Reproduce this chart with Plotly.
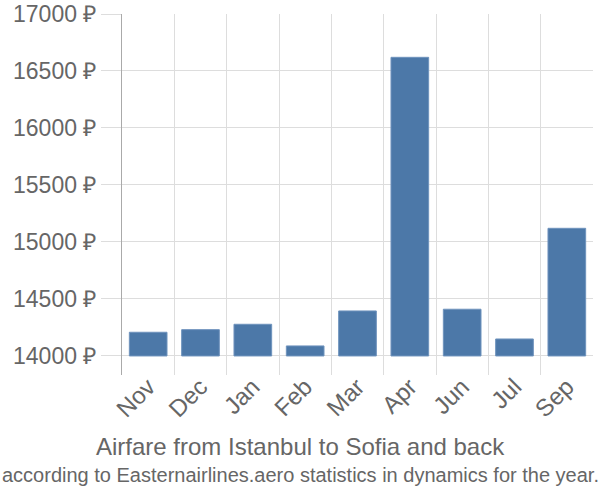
import plotly.graph_objects as go

months = ["Nov", "Dec", "Jan", "Feb", "Mar", "Apr", "Jun", "Jul", "Sep"]
prices = [14208, 14231, 14278, 14088, 14395, 16620, 14410, 14149, 15120]
base_value = 14000
y_ticks = [14000, 14500, 15000, 15500, 16000, 16500, 17000]
y_tick_labels = [f"{v} ₽" for v in y_ticks]

title_text = "Airfare from Istanbul to Sofia and back"
subtitle_text = "according to Easternairlines.aero statistics in dynamics for the year."

font_family = "Liberation Sans, Arial, sans-serif"
text_color = "#666666"
grid_color = "#dddddd"

fig = go.Figure(
    go.Bar(
        x=months,
        y=[p - base_value for p in prices],
        base=base_value,
        marker=dict(color="#4c78a8", line=dict(color="#6f93bd", width=1)),
        width=0.72,
        hoverinfo="skip",
    )
)

fig.update_layout(
    width=600,
    height=500,
    margin=dict(l=122, r=7, t=14, b=125),
    paper_bgcolor="white",
    plot_bgcolor="white",
    showlegend=False,
    font=dict(family=font_family, color=text_color),
    xaxis=dict(
        type="category",
        range=[-0.5, 8.5],
        tickson="boundaries",
        showgrid=True,
        gridcolor=grid_color,
        gridwidth=1,
        ticks="",
        tickangle=-45,
        tickfont=dict(size=24, color=text_color),
        ticklabelstandoff=-8,
        showline=False,
        zeroline=False,
        automargin=False,
    ),
    yaxis=dict(
        range=[13833, 17000],
        tickvals=y_ticks,
        ticktext=y_tick_labels,
        showgrid=True,
        gridcolor=grid_color,
        gridwidth=1,
        ticks="outside",
        ticklen=20,
        tickcolor=grid_color,
        tickfont=dict(size=23, color=text_color),
        showline=True,
        linecolor="#aaaaaa",
        linewidth=1,
        zeroline=False,
        automargin=False,
    ),
    annotations=[
        dict(
            text=title_text,
            xref="paper", yref="paper",
            x=(300 - 122) / 471, y=(375 - 446) / 361,
            xanchor="center", yanchor="middle",
            showarrow=False,
            font=dict(size=24, color=text_color, family=font_family),
        ),
        dict(
            text=subtitle_text,
            xref="paper", yref="paper",
            x=(300 - 122) / 471, y=(375 - 475) / 361,
            xanchor="center", yanchor="middle",
            showarrow=False,
            font=dict(size=20, color=text_color, family=font_family),
        ),
    ],
)

fig.write_html(
    "out.html",
    config={"displayModeBar": False},
    post_script="document.body.style.margin='0';document.body.style.overflow='hidden';",
)
